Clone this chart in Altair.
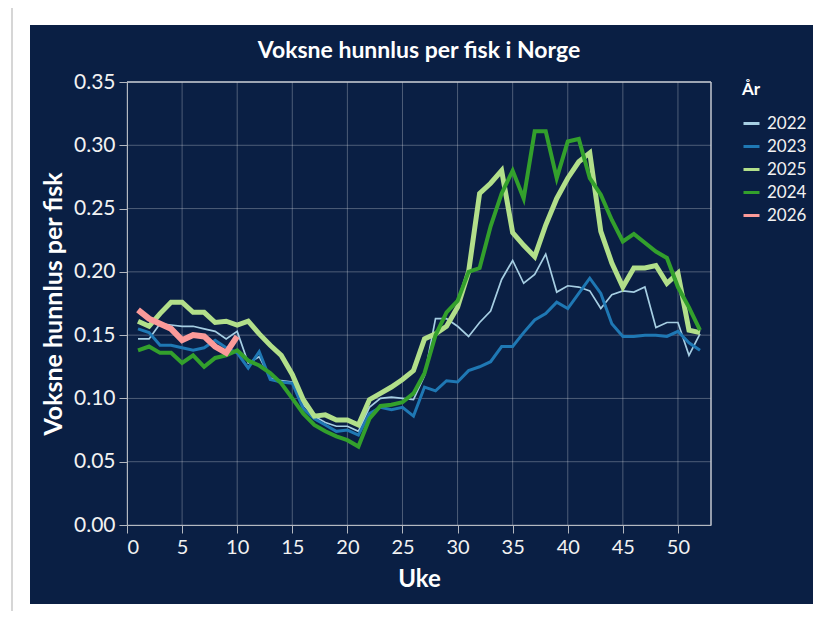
import altair as alt
import pandas as pd

weeks = list(range(1, 53))

y2022 = [0.147, 0.147, 0.159, 0.158, 0.157, 0.157, 0.155, 0.153, 0.147, 0.153,
         0.128, 0.133, 0.116, 0.114, 0.113, 0.095, 0.086, 0.081, 0.078, 0.078,
         0.074, 0.093, 0.100, 0.101, 0.100, 0.099, 0.118, 0.163, 0.163, 0.157,
         0.149, 0.160, 0.169, 0.194, 0.209, 0.191, 0.198, 0.214, 0.184, 0.189,
         0.188, 0.185, 0.171, 0.182, 0.185, 0.184, 0.188, 0.156, 0.160, 0.160,
         0.134, 0.151]

y2023 = [0.155, 0.152, 0.142, 0.142, 0.140, 0.138, 0.140, 0.146, 0.140, 0.136,
         0.124, 0.137, 0.115, 0.113, 0.112, 0.092, 0.084, 0.079, 0.074, 0.075,
         0.071, 0.088, 0.093, 0.091, 0.093, 0.086, 0.109, 0.106, 0.114, 0.113,
         0.122, 0.125, 0.129, 0.141, 0.141, 0.152, 0.162, 0.167, 0.176, 0.171,
         0.183, 0.195, 0.183, 0.159, 0.149, 0.149, 0.150, 0.150, 0.149, 0.153,
         0.144, 0.138]

y2024 = [0.138, 0.141, 0.136, 0.136, 0.128, 0.134, 0.125, 0.132, 0.134, 0.138,
         0.130, 0.126, 0.120, 0.112, 0.100, 0.088, 0.079, 0.074, 0.070, 0.067,
         0.062, 0.084, 0.094, 0.095, 0.097, 0.104, 0.120, 0.150, 0.168, 0.177,
         0.200, 0.203, 0.236, 0.262, 0.280, 0.258, 0.311, 0.311, 0.274, 0.303,
         0.305, 0.274, 0.261, 0.241, 0.224, 0.230, 0.223, 0.216, 0.211, 0.188,
         0.172, 0.154]

y2025 = [0.161, 0.157, 0.167, 0.176, 0.176, 0.168, 0.168, 0.160, 0.161, 0.158,
         0.161, 0.151, 0.142, 0.134, 0.119, 0.099, 0.086, 0.087, 0.083, 0.083,
         0.079, 0.099, 0.104, 0.109, 0.115, 0.122, 0.147, 0.151, 0.157, 0.172,
         0.200, 0.262, 0.270, 0.280, 0.231, 0.221, 0.212, 0.237, 0.258, 0.274,
         0.287, 0.294, 0.232, 0.207, 0.188, 0.203, 0.203, 0.205, 0.191, 0.199,
         0.154, 0.152]

y2026 = [0.170, 0.163, 0.159, 0.155, 0.146, 0.150, 0.149, 0.141, 0.136, 0.149]

years = ["2022", "2023", "2025", "2024", "2026"]
colors = ["#a6cee3", "#1f78b4", "#b2df8a", "#33a02c", "#fb9a99"]
widths = [1.7, 3.0, 5.0, 4.0, 6.0]

x_ticks = [0, 5, 10, 15, 20, 25, 30, 35, 40, 45, 50]
y_ticks = [0.0, 0.05, 0.10, 0.15, 0.20, 0.25, 0.30, 0.35]

title_text = "Voksne hunnlus per fisk i Norge"

series = {"2022": y2022, "2023": y2023, "2025": y2025, "2024": y2024, "2026": y2026}
rows = []
for yr in years:
    for w, v in zip(weeks, series[yr]):
        rows.append({"Uke": w, "verdi": v, "År": yr})
df = pd.DataFrame(rows)

NAVY = "#0a1f44"
FONT = "Lato"

xscale = alt.Scale(domain=[0, 53], nice=False, zero=False)
yscale = alt.Scale(domain=[0, 0.35], nice=False)
cscale = alt.Scale(domain=years, range=colors)

xaxis = alt.Axis(values=x_ticks, format="d", grid=False, zindex=1,
                 labelFontSize=20, labelColor="#f2f2f2", labelFont=FONT,
                 labelPadding=4, tickSize=8, tickColor="#b4b8c0",
                 domainColor="#b4b8c0", title="Uke", titleFont=FONT,
                 titleFontSize=24, titleFontWeight="bold", titleColor="white",
                 titlePadding=10)
yaxis = alt.Axis(values=y_ticks, format=".2f", grid=False, zindex=1,
                 labelFontSize=21, labelColor="#f2f2f2", labelFont=FONT,
                 labelPadding=4, tickSize=8, tickColor="#b4b8c0",
                 domainColor="#b4b8c0", title="Voksne hunnlus per fisk",
                 titleFont=FONT, titleFontSize=25, titleFontWeight="bold",
                 titleColor="white", titlePadding=7, labelFlush=False)

legend_def = alt.Legend(
    title="År", orient="right", offset=31, padding=0, zindex=1,
    titleFont=FONT, titleFontSize=17, titleFontWeight="bold",
    titleColor="white", titlePadding=15,
    labelFont=FONT, labelFontSize=17, labelColor="#f2f2f2",
    labelOffset=6, symbolType="stroke", symbolSize=256,
    symbolStrokeWidth=3, rowPadding=5,
)

one = pd.DataFrame({"a": [0]})

frame = alt.Chart(one).mark_rect(fill="white", stroke="#d6d6d6", strokeWidth=2).encode(
    x=alt.value(-115), x2=alt.value(720), y=alt.value(-90), y2=alt.value(560)
)
bg = alt.Chart(one).mark_rect(fill=NAVY).encode(
    x=alt.value(-97), x2=alt.value(686), y=alt.value(-57), y2=alt.value(522)
)

title = alt.Chart(pd.DataFrame({"t": [title_text]})).mark_text(
    font=FONT, fontSize=23, fontWeight="bold", color="white",
    align="center", baseline="alphabetic"
).encode(text="t:N", x=alt.value(292), y=alt.value(-24))

vgrid = alt.Chart(pd.DataFrame({"Uke": x_ticks})).mark_rule(
    color="white", opacity=0.28, strokeWidth=1
).encode(x=alt.X("Uke:Q", scale=xscale, axis=xaxis))

hgrid = alt.Chart(pd.DataFrame({"verdi": y_ticks})).mark_rule(
    color="white", opacity=0.28, strokeWidth=1
).encode(y=alt.Y("verdi:Q", scale=yscale, axis=yaxis))

rborder = alt.Chart(pd.DataFrame({"Uke": [53]})).mark_rule(
    color="#c4c8d0", strokeWidth=1.5
).encode(x=alt.X("Uke:Q", scale=xscale, axis=xaxis))
tborder = alt.Chart(pd.DataFrame({"verdi": [0.35]})).mark_rule(
    color="#c4c8d0", strokeWidth=1.5
).encode(y=alt.Y("verdi:Q", scale=yscale, axis=yaxis))


def line_layer(data_filter, width):
    return alt.Chart(df).transform_filter(data_filter).mark_line(
        strokeWidth=width, strokeJoin="miter"
    ).encode(
        x=alt.X("Uke:Q", scale=xscale, axis=xaxis),
        y=alt.Y("verdi:Q", scale=yscale, axis=yaxis),
        color=alt.Color("År:N", scale=cscale, legend=legend_def),
        order=alt.Order("Uke:Q"),
    )


# first line layer carries no rows: it only sets the legend symbol width
legend_layer = line_layer("datum.verdi < 0", 3)
year_layers = [line_layer(alt.datum["År"] == yr, w) for yr, w in zip(years, widths)]

chart = alt.layer(frame, bg, title, vgrid, hgrid, rborder, tborder, legend_layer,
                  *year_layers).properties(
    width=584,
    height=443,
    padding={"left": 119, "top": 74, "right": 105, "bottom": 86},
    autosize=alt.AutoSizeParams(type="none"),
    background="white",
).configure_view(stroke=None)

chart.save("out.html", embed_options={"renderer": "svg", "actions": False})
